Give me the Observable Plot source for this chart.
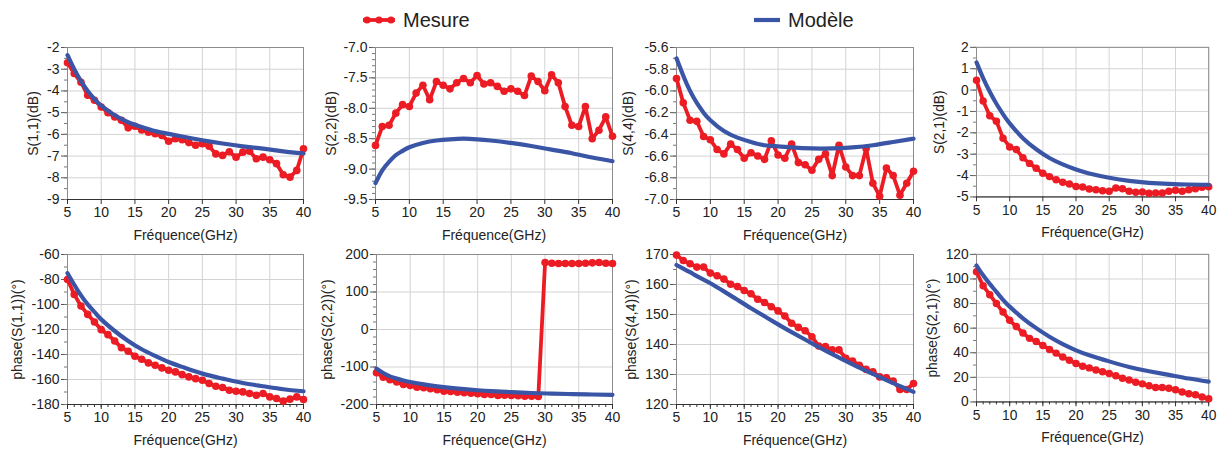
<!DOCTYPE html>
<html><head><meta charset="utf-8">
<script src="https://cdn.jsdelivr.net/npm/d3@7"></script>
<script src="https://cdn.jsdelivr.net/npm/@observablehq/plot@0.6"></script>
<style>
body{margin:0;background:#fff;font-family:"Liberation Sans",Arial,sans-serif;}
#chart{position:relative;width:1222px;height:450px;overflow:hidden;background:#fff;}
.panel{position:absolute;}
.panel svg{overflow:visible;background:transparent;}
#legend{position:absolute;left:0;top:0;}
</style></head><body><div id="chart"><svg id="legend" width="1222" height="40"></svg></div>
<script>
// ---------- data ----------
const freq = [5,6,7,8,9,10,11,12,13,14,15,16,17,18,19,20,21,22,23,24,25,26,27,28,29,30,31,32,33,34,35,36,37,38,39,40];
const modelFreq = [5,6,7,8,9,10,12,14,16,18,20,22,25,28,31,34,37,40];
const xTicks = [5,10,15,20,25,30,35,40];
const xMinor = [5,6,7,8,9,10,11,12,13,14,15,16,17,18,19,20,21,22,23,24,25,26,27,28,29,30,31,32,33,34,35,36,37,38,39,40];

const s11Meas = [-2.7,-3.2,-3.6,-4.2,-4.43,-4.74,-5.0,-5.2,-5.35,-5.7,-5.63,-5.8,-5.9,-5.97,-6.05,-6.32,-6.2,-6.25,-6.38,-6.5,-6.43,-6.55,-6.9,-6.97,-6.8,-7.05,-6.82,-6.78,-7.12,-7.05,-7.17,-7.35,-7.86,-7.97,-7.66,-6.66];
const s11Model = [-2.35,-3.0,-3.55,-4.0,-4.38,-4.68,-5.12,-5.44,-5.66,-5.85,-5.98,-6.1,-6.27,-6.42,-6.55,-6.66,-6.78,-6.88];

const s22Meas = [-8.61,-8.30,-8.28,-8.08,-7.94,-7.97,-7.75,-7.62,-7.86,-7.56,-7.62,-7.68,-7.58,-7.51,-7.58,-7.46,-7.6,-7.58,-7.64,-7.72,-7.68,-7.72,-7.79,-7.47,-7.56,-7.71,-7.45,-7.58,-7.97,-8.28,-8.30,-7.97,-8.5,-8.36,-8.14,-8.46];
const s22Model = [-9.23,-9.02,-8.88,-8.77,-8.7,-8.64,-8.57,-8.53,-8.51,-8.5,-8.51,-8.53,-8.57,-8.62,-8.68,-8.74,-8.81,-8.87];

const s44Meas = [-5.885,-6.11,-6.27,-6.28,-6.42,-6.45,-6.54,-6.58,-6.49,-6.54,-6.62,-6.57,-6.60,-6.63,-6.46,-6.59,-6.62,-6.49,-6.66,-6.68,-6.73,-6.63,-6.58,-6.78,-6.5,-6.70,-6.78,-6.78,-6.53,-6.85,-6.97,-6.71,-6.78,-6.96,-6.85,-6.74];
const s44Model = [-5.70,-5.86,-6.0,-6.11,-6.2,-6.27,-6.37,-6.43,-6.47,-6.5,-6.51,-6.52,-6.53,-6.53,-6.52,-6.5,-6.47,-6.44];

const s21Meas = [0.46,-0.51,-1.2,-1.46,-2.25,-2.66,-2.78,-3.17,-3.43,-3.66,-3.89,-4.05,-4.2,-4.31,-4.4,-4.51,-4.54,-4.63,-4.66,-4.71,-4.74,-4.58,-4.62,-4.74,-4.78,-4.77,-4.83,-4.82,-4.82,-4.74,-4.69,-4.74,-4.66,-4.62,-4.55,-4.52];
const s21Model = [1.3,0.56,-0.08,-0.64,-1.13,-1.56,-2.25,-2.77,-3.18,-3.48,-3.72,-3.9,-4.1,-4.25,-4.34,-4.39,-4.42,-4.43];

const p11Meas = [-80,-91.9,-101.2,-107.9,-114,-120.1,-124.1,-129.2,-134.5,-137.4,-141.4,-143.8,-146.7,-148.6,-150.7,-152.6,-153.9,-156.1,-157.9,-159.3,-160.6,-163.2,-165.4,-166.4,-168.6,-169.4,-169.9,-171.2,-172.6,-171.2,-173.9,-175.2,-177.3,-175.7,-173.9,-176];
const p11Model = [-74.9,-84.2,-92.7,-99.9,-106,-111.9,-121.2,-129.2,-135.8,-141.1,-146,-149.9,-155.3,-159.3,-162.8,-165.4,-167.8,-169.4];

const p22Meas = [-115.4,-127,-134,-140,-146.5,-149,-153.7,-155,-158,-160.8,-164.4,-165.3,-167,-168.8,-169.7,-171.5,-173.3,-173.3,-176,-175,-176,-176.8,-177.7,-177.7,-178.6,178.6,176.8,176,176,176,176,176.8,177.7,178.6,176.8,176];
const p22Model = [-104.7,-116,-125,-131,-136,-140,-146.5,-151.5,-155.5,-159,-162,-164.5,-167,-169.3,-171,-172.3,-173.4,-174.2];

const p44Meas = [169.8,168,166.9,165.8,165.8,163.8,162.9,161.8,160.1,159.3,158,156.9,155.1,154,152.6,151.2,149.5,147.1,145.7,144.6,142.6,139.5,139.3,138.2,138.2,135.4,134.5,133.1,131.7,130.9,129.2,128.9,127.8,125,125,127];
const p44Model = [166.5,165.3,164.1,162.8,161.6,160.4,157.7,154.9,152.1,149.4,146.7,144.1,140.4,136.8,133.4,130.2,127.1,124.2];

const p21Meas = [105.9,94.4,87.2,80,73.1,66.4,61.3,56,51.7,49.1,45.9,42.7,39.7,36.5,33.9,31.2,29.1,27.7,25.9,24.5,23.2,21.3,19.2,17.9,16,14.7,13.1,11.7,11.7,11.2,9.9,8,6.7,5.9,4,2.7];
const p21Model = [111,103,96,89.5,83,77.5,68,60,53,47,42,38,33,28.5,25,22,19,16.5];

const yLabels = ["S(1,1)(dB)","S(2,2)(dB)","S(4,4)(dB)","S(2,1)(dB)","phase(S(1,1))(°)","phase(S(2,2))(°)","phase(S(4,4))(°)","phase(S(2,1))(°)"];
const xLabel = "Fréquence(GHz)";
const legendLabels = ["Mesure","Modèle"];

const yTicks1 = [-9,-8,-7,-6,-5,-4,-3,-2];
const yMinor1 = [-9,-8.5,-8,-7.5,-7,-6.5,-6,-5.5,-5,-4.5,-4,-3.5,-3,-2.5,-2];
const yTicks2 = [-9.5,-9.0,-8.5,-8.0,-7.5,-7.0];
const yMinor2 = [-9.5,-9.4,-9.3,-9.2,-9.1,-9.0,-8.9,-8.8,-8.7,-8.6,-8.5,-8.4,-8.3,-8.2,-8.1,-8.0,-7.9,-7.8,-7.7,-7.6,-7.5,-7.4,-7.3,-7.2,-7.1,-7.0];
const yTicks3 = [-7.0,-6.8,-6.6,-6.4,-6.2,-6.0,-5.8,-5.6];
const yMinor3 = [-7.0,-6.9,-6.8,-6.7,-6.6,-6.5,-6.4,-6.3,-6.2,-6.1,-6.0,-5.9,-5.8,-5.7,-5.6];
const yTicks4 = [-5,-4,-3,-2,-1,0,1,2];
const yMinor4 = [-5,-4.5,-4,-3.5,-3,-2.5,-2,-1.5,-1,-0.5,0,0.5,1,1.5,2];
const yTicks5 = [-180,-160,-140,-120,-100,-80,-60];
const yMinor5 = [-180,-170,-160,-150,-140,-130,-120,-110,-100,-90,-80,-70,-60];
const yTicks6 = [-200,-100,0,100,200];
const yMinor6 = [-200,-180,-160,-140,-120,-100,-80,-60,-40,-20,0,20,40,60,80,100,120,140,160,180,200];
const yTicks7 = [120,130,140,150,160,170];
const yMinor7 = [120,125,130,135,140,145,150,155,160,165,170];
const yTicks8 = [0,20,40,60,80,100,120];
const yMinor8 = [0,10,20,30,40,50,60,70,80,90,100,110,120];

// ---------- style ----------
const RED = "#ec1c24", BLUE = "#3a55a5";
const FONT = "'Liberation Sans', Arial, sans-serif";
const ML = 62, MR = 14, MT = 8, MB = 44;

const fmtInt = d => String(d);
const fmt1 = d => d.toFixed(1);

const panels = [
  {meas:s11Meas, model:s11Model, dom:[-9,-2], ticks:yTicks1, minor:yMinor1, fmt:fmtInt, label:yLabels[0], px:67, py:47, pw:236, ph:152, lo:34, xminor:false},
  {meas:s22Meas, model:s22Model, dom:[-9.5,-7.0], ticks:yTicks2, minor:yMinor2, fmt:fmt1, label:yLabels[1], px:375, py:47, pw:237, ph:152, lo:44, xminor:false},
  {meas:s44Meas, model:s44Model, dom:[-7.0,-5.6], ticks:yTicks3, minor:yMinor3, fmt:fmt1, label:yLabels[2], px:676, py:47, pw:237, ph:152, lo:48, xminor:false},
  {meas:s21Meas, model:s21Model, dom:[-5,2], ticks:yTicks4, minor:yMinor4, fmt:fmtInt, label:yLabels[3], px:977, py:47, pw:236, ph:152, lo:38, xminor:false},
  {meas:p11Meas, model:p11Model, dom:[-180,-60], ticks:yTicks5, minor:yMinor5, fmt:fmtInt, label:yLabels[4], px:67, py:254, pw:236, ph:150, lo:50, xminor:true},
  {meas:p22Meas, model:p22Model, dom:[-200,200], ticks:yTicks6, minor:yMinor6, fmt:fmtInt, label:yLabels[5], px:376, py:254, pw:236, ph:150, lo:49, xminor:true},
  {meas:p44Meas, model:p44Model, dom:[120,170], ticks:yTicks7, minor:yMinor7, fmt:fmtInt, label:yLabels[6], px:676, py:254, pw:237, ph:150, lo:45, xminor:true},
  {meas:p21Meas, model:p21Model, dom:[0,120], ticks:yTicks8, minor:yMinor8, fmt:fmtInt, label:yLabels[7], px:977, py:254, pw:236, ph:150, lo:45, xminor:true}
];

const chart = document.getElementById("chart");

for (const p of panels) {
  const measData = freq.map((f, i) => ({f, v: p.meas[i]}));
  const modelData = modelFreq.map((f, i) => ({f, v: p.model[i]}));
  const marks = [
    Plot.gridX(xTicks, {stroke: "#d3d3d3", strokeOpacity: 1}),
    Plot.gridY(p.ticks, {stroke: "#d3d3d3", strokeOpacity: 1}),
    Plot.frame({stroke: "#8c8c8c"}),
    Plot.ruleY([p.dom[0]], {stroke: "#333"}),
    Plot.axisY(p.ticks, {tickSize: 6, tickPadding: 2, tickFormat: p.fmt, fontSize: 14, label: null, stroke: "#555"}),
    Plot.axisY(p.minor, {tickSize: 3, tickFormat: () => "", label: null, stroke: "#777"}),
    Plot.axisX(xTicks, {tickSize: 5, tickPadding: 3, fontSize: 14, label: null, stroke: "#333"}),
  ];
  if (p.xminor) marks.push(Plot.axisX(xMinor, {tickSize: 3, tickFormat: () => "", label: null, stroke: "#333"}));
  marks.push(
    Plot.line(measData, {x: "f", y: "v", stroke: RED, strokeWidth: 3.8}),
    Plot.dot(measData, {x: "f", y: "v", r: 3.8, fill: RED, stroke: "none"}),
    Plot.line(modelData, {x: "f", y: "v", stroke: BLUE, strokeWidth: 4.2, curve: "natural"}),
    Plot.text([p.label], {frameAnchor: "left", rotate: -90, dx: -p.lo, textAnchor: "middle", lineAnchor: "middle", fontSize: 14, fill: "#222"}),
    Plot.text([xLabel], {frameAnchor: "bottom", dy: 36, textAnchor: "middle", lineAnchor: "middle", fontSize: 14, fill: "#222"})
  );
  const svg = Plot.plot({
    width: p.pw + ML + MR,
    height: p.ph + MT + MB,
    marginLeft: ML, marginRight: MR, marginTop: MT, marginBottom: MB,
    x: {domain: [5, 40]},
    y: {domain: p.dom},
    style: {fontFamily: FONT, fontSize: "14px", color: "#222", background: "transparent", overflow: "visible"},
    marks
  });
  const div = document.createElement("div");
  div.className = "panel";
  div.style.left = (p.px - ML) + "px";
  div.style.top = (p.py - MT) + "px";
  div.appendChild(svg);
  chart.appendChild(div);
}

// ---------- legend ----------
const lg = d3.select("#legend");
const ly = 20;
lg.append("line").attr("x1", 363).attr("x2", 395).attr("y1", ly).attr("y2", ly).attr("stroke", RED).attr("stroke-width", 3.8);
for (const cx of [367, 379, 391]) lg.append("circle").attr("cx", cx).attr("cy", ly).attr("r", 3.6).attr("fill", RED);
lg.append("text").attr("x", 403).attr("y", ly).attr("dy", "0.35em").attr("font-size", 20).attr("font-family", FONT).attr("fill", "#222").text(legendLabels[0]);
lg.append("line").attr("x1", 754).attr("x2", 780).attr("y1", ly).attr("y2", ly).attr("stroke", BLUE).attr("stroke-width", 4.2);
lg.append("text").attr("x", 788).attr("y", ly).attr("dy", "0.35em").attr("font-size", 20).attr("font-family", FONT).attr("fill", "#222").text(legendLabels[1]);
</script></body></html>
